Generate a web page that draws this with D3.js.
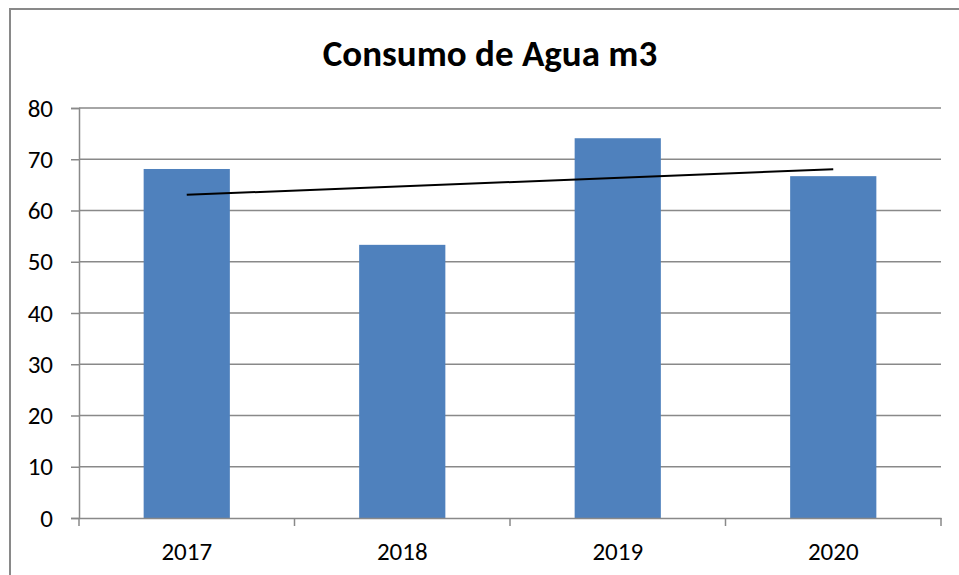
<!DOCTYPE html>
<html>
<head>
<meta charset="utf-8">
<script src="https://cdn.jsdelivr.net/npm/d3@7"></script>
<style>
  body { margin: 0; background: #fff; }
  svg { display: block; }
</style>
</head>
<body>
<div id="chart"></div>
<script>
// datos
const years = ['2017', '2018', '2019', '2020'];
const consumo = [68.1, 53.3, 74.1, 66.7];
const yTicks = [0, 10, 20, 30, 40, 50, 60, 70, 80];
const titulo = 'Consumo de Agua m3';

const W = 959, H = 575;
const margin = { left: 79, right: 959 - 941, top: 108, bottom: 575 - 518 };
const font = 'Carlito, Calibri, "Open Sans", "Liberation Sans", sans-serif';

const svg = d3.select('#chart').append('svg')
  .attr('width', W)
  .attr('height', H);

// marco del grafico
svg.append('rect')
  .attr('x', 10)
  .attr('y', 9)
  .attr('width', 960)
  .attr('height', 580)
  .attr('fill', 'none')
  .attr('stroke', '#898989')
  .attr('stroke-width', 2);

svg.append('text')
  .attr('x', 490)
  .attr('y', 66)
  .attr('text-anchor', 'middle')
  .attr('font-family', font)
  .attr('font-weight', 'bold')
  .attr('font-size', '37px')
  .attr('fill', '#000')
  .text(titulo);

const x = d3.scaleBand()
  .domain(years)
  .range([margin.left, W - margin.right])
  .paddingInner(0.6)
  .paddingOuter(0.3);

const xBand = d3.scaleBand()
  .domain(years)
  .range([margin.left, W - margin.right]);

const y = d3.scaleLinear()
  .domain([0, 80])
  .range([H - margin.bottom, margin.top]);

// lineas de division
svg.append('g')
  .selectAll('line')
  .data(yTicks.filter(d => d > 0))
  .join('line')
  .attr('x1', margin.left)
  .attr('x2', W - margin.right)
  .attr('y1', d => y(d))
  .attr('y2', d => y(d))
  .attr('stroke', '#898989')
  .attr('stroke-width', 1.5);

// barras
svg.append('g')
  .selectAll('rect')
  .data(consumo)
  .join('rect')
  .attr('x', (d, i) => x(years[i]))
  .attr('y', d => y(d))
  .attr('width', x.bandwidth())
  .attr('height', d => y(0) - y(d))
  .attr('fill', '#4F81BD');

// eje y
const yAxis = svg.append('g')
  .attr('transform', `translate(${margin.left},0)`)
  .call(d3.axisLeft(y).tickValues(yTicks).tickSize(8).tickPadding(18));
yAxis.select('.domain').attr('stroke', '#898989').attr('stroke-width', 1.5);
yAxis.selectAll('.tick line').attr('stroke', '#898989').attr('stroke-width', 1.5);
yAxis.selectAll('.tick text')
  .attr('font-family', font)
  .attr('font-size', '25px')
  .attr('fill', '#000');

// eje x
const xAxis = svg.append('g')
  .attr('transform', `translate(0,${H - margin.bottom})`)
  .call(d3.axisBottom(xBand).tickSize(0).tickPadding(0));
xAxis.select('.domain').attr('stroke', '#898989').attr('stroke-width', 1.5);
xAxis.selectAll('.tick text')
  .attr('dy', null)
  .attr('y', 42)
  .attr('font-family', font)
  .attr('font-size', '25px')
  .attr('fill', '#000');
// marcas entre categorias
xAxis.append('g')
  .selectAll('line')
  .data(years.map(d => xBand(d)).concat([W - margin.right]))
  .join('line')
  .attr('x1', d => d)
  .attr('x2', d => d)
  .attr('y1', 0)
  .attr('y2', 8)
  .attr('stroke', '#898989')
  .attr('stroke-width', 1.5);

// linea de tendencia (minimos cuadrados)
const xs = consumo.map((d, i) => i + 1);
const mx = d3.mean(xs), my = d3.mean(consumo);
const slope = d3.sum(xs, (v, i) => (v - mx) * (consumo[i] - my)) / d3.sum(xs, v => (v - mx) ** 2);
const trend = [
  { year: years[0], v: my + slope * (xs[0] - mx) },
  { year: years[years.length - 1], v: my + slope * (xs[xs.length - 1] - mx) },
];

svg.append('path')
  .datum(trend)
  .attr('fill', 'none')
  .attr('stroke', '#000')
  .attr('stroke-width', 2)
  .attr('d', d3.line()
    .x(d => xBand(d.year) + xBand.bandwidth() / 2)
    .y(d => y(d.v))
  );
</script>
</body>
</html>
